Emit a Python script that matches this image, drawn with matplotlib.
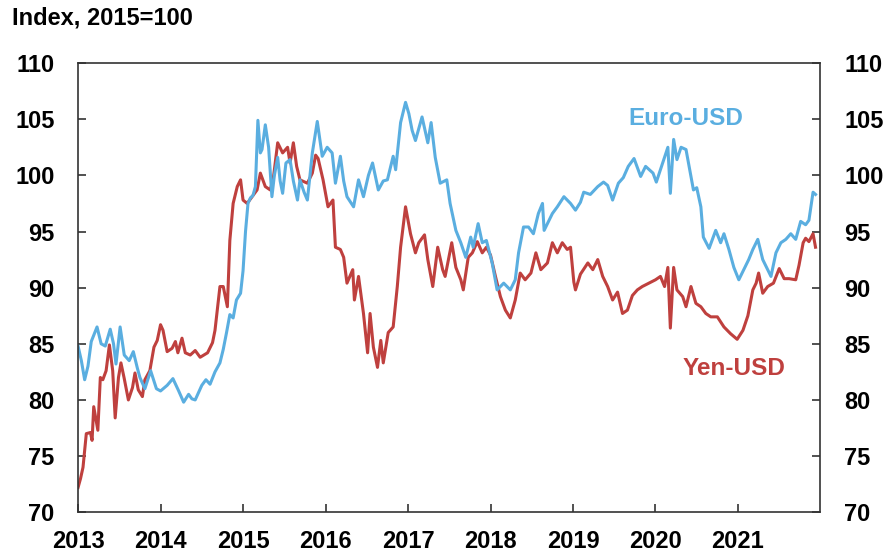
import matplotlib.pyplot as plt

# Euro-USD and Yen-USD indices (2015=100)
euro_years = [2013.00, 2013.04, 2013.08, 2013.12, 2013.16, 2013.23, 2013.28, 2013.33, 2013.39, 2013.43,
              2013.46, 2013.51, 2013.56, 2013.62, 2013.67, 2013.72, 2013.75, 2013.81, 2013.88, 2013.95,
              2014.00, 2014.08, 2014.15, 2014.22, 2014.28, 2014.34, 2014.38, 2014.42, 2014.50, 2014.55,
              2014.60, 2014.66, 2014.72, 2014.76, 2014.80, 2014.84, 2014.88, 2014.92, 2014.97, 2015.00,
              2015.03, 2015.06, 2015.09, 2015.12, 2015.15, 2015.18, 2015.21, 2015.23, 2015.27, 2015.31,
              2015.35, 2015.38, 2015.42, 2015.45, 2015.48, 2015.52, 2015.57, 2015.61, 2015.66, 2015.69,
              2015.74, 2015.78, 2015.84, 2015.90, 2015.96, 2016.02, 2016.08, 2016.12, 2016.18, 2016.22,
              2016.26, 2016.34, 2016.40, 2016.46, 2016.52, 2016.57, 2016.64, 2016.70, 2016.75, 2016.82,
              2016.85, 2016.91, 2016.97, 2017.01, 2017.05, 2017.09, 2017.17, 2017.24, 2017.28, 2017.33,
              2017.39, 2017.47, 2017.51, 2017.58, 2017.64, 2017.70, 2017.76, 2017.79, 2017.85, 2017.90,
              2017.95, 2018.02, 2018.08, 2018.16, 2018.24, 2018.30, 2018.34, 2018.40, 2018.46, 2018.52,
              2018.58, 2018.63, 2018.65, 2018.75, 2018.81, 2018.89, 2018.97, 2019.03, 2019.09, 2019.13,
              2019.21, 2019.30, 2019.37, 2019.42, 2019.48, 2019.55, 2019.61, 2019.67, 2019.74, 2019.82,
              2019.88, 2019.97, 2020.01, 2020.06, 2020.10, 2020.15, 2020.18, 2020.22, 2020.26, 2020.31,
              2020.37, 2020.40, 2020.46, 2020.50, 2020.55, 2020.58, 2020.65, 2020.73, 2020.79, 2020.83,
              2020.89, 2020.95, 2021.01, 2021.07, 2021.13, 2021.18, 2021.24, 2021.30, 2021.36, 2021.40,
              2021.46, 2021.52, 2021.58, 2021.64, 2021.70, 2021.76, 2021.82, 2021.86, 2021.91, 2021.94]
euro_usd = [84.8, 83.5, 81.8, 83.0, 85.2, 86.5, 85.0, 84.8, 86.3, 85.0,
            83.2, 86.5, 84.0, 83.5, 84.3, 82.8, 82.0, 81.0, 82.6, 81.0,
            80.8, 81.3, 81.9, 80.8, 79.8, 80.5, 80.1, 80.0, 81.3, 81.8,
            81.4, 82.5, 83.3, 84.5, 86.0, 87.6, 87.3, 88.9, 89.5, 91.5,
            95.0, 97.5, 98.0, 98.2, 99.0, 104.9, 102.0, 102.3, 104.5, 102.5,
            98.1, 100.0, 101.6, 99.5, 98.4, 101.1, 101.4, 99.5, 97.8, 99.6,
            98.5, 97.8, 102.0, 104.8, 101.7, 102.5, 102.0, 99.3, 101.7, 99.5,
            98.1, 97.2, 99.6, 98.1, 100.0, 101.1, 98.7, 99.5, 99.6, 101.7,
            100.5, 104.7, 106.5, 105.5, 104.0, 103.1, 105.2, 102.9, 104.7, 101.6,
            99.3, 99.6, 97.5, 95.1, 94.0, 92.7, 94.5, 93.6, 95.7, 94.0,
            94.2, 92.2, 89.8, 90.4, 89.8, 90.7, 93.1, 95.4, 95.4, 94.8,
            96.6, 97.5, 95.1, 96.6, 97.2, 98.1, 97.5, 96.9, 97.6, 98.5,
            98.3, 99.0, 99.4, 99.1, 97.8, 99.3, 99.8, 100.8, 101.5, 99.9,
            100.8, 100.2, 99.4, 100.5, 101.4, 102.5, 98.4, 103.2, 101.4, 102.5,
            102.3, 101.1, 98.7, 98.9, 97.2, 94.5, 93.5, 95.1, 94.0, 94.8,
            93.4, 91.8, 90.7, 91.6, 92.5, 93.4, 94.3, 92.5, 91.6, 91.0,
            93.1, 94.0, 94.3, 94.8, 94.3, 95.9, 95.6, 96.0, 98.5, 98.3]

yen_years = [2013.00, 2013.03, 2013.06, 2013.10, 2013.15, 2013.17, 2013.19, 2013.24, 2013.27, 2013.30,
             2013.34, 2013.38, 2013.42, 2013.45, 2013.49, 2013.52, 2013.56, 2013.61, 2013.66, 2013.69,
             2013.73, 2013.78, 2013.81, 2013.87, 2013.92, 2013.96, 2014.00, 2014.03, 2014.08, 2014.14,
             2014.18, 2014.21, 2014.26, 2014.30, 2014.36, 2014.42, 2014.48, 2014.57, 2014.63, 2014.66,
             2014.72, 2014.76, 2014.81, 2014.84, 2014.88, 2014.93, 2014.97, 2015.00, 2015.05, 2015.11,
             2015.17, 2015.21, 2015.27, 2015.33, 2015.37, 2015.42, 2015.48, 2015.54, 2015.57, 2015.61,
             2015.65, 2015.69, 2015.78, 2015.84, 2015.88, 2015.91, 2015.97, 2016.03, 2016.09, 2016.12,
             2016.18, 2016.22, 2016.26, 2016.33, 2016.35, 2016.40, 2016.46, 2016.51, 2016.54, 2016.58,
             2016.63, 2016.67, 2016.70, 2016.76, 2016.82, 2016.87, 2016.91, 2016.97, 2017.03, 2017.09,
             2017.13, 2017.20, 2017.24, 2017.30, 2017.36, 2017.42, 2017.45, 2017.53, 2017.58, 2017.64,
             2017.67, 2017.73, 2017.78, 2017.84, 2017.90, 2017.95, 2018.00, 2018.06, 2018.12, 2018.18,
             2018.24, 2018.30, 2018.36, 2018.42, 2018.49, 2018.55, 2018.61, 2018.69, 2018.75, 2018.81,
             2018.87, 2018.93, 2018.97, 2019.01, 2019.03, 2019.09, 2019.18, 2019.24, 2019.30, 2019.36,
             2019.42, 2019.48, 2019.54, 2019.60, 2019.66, 2019.72, 2019.78, 2019.84, 2019.92, 2020.00,
             2020.06, 2020.11, 2020.15, 2020.18, 2020.22, 2020.26, 2020.33, 2020.37, 2020.43, 2020.49,
             2020.55, 2020.61, 2020.67, 2020.75, 2020.83, 2020.91, 2020.99, 2021.06, 2021.12, 2021.18,
             2021.22, 2021.25, 2021.30, 2021.36, 2021.43, 2021.50, 2021.56, 2021.62, 2021.70, 2021.74,
             2021.79, 2021.82, 2021.86, 2021.91, 2021.94]
yen_usd = [72.2, 73.0, 74.0, 77.0, 77.1, 76.4, 79.4, 77.3, 82.0, 81.8,
           82.6, 84.9, 82.6, 78.4, 82.0, 83.3, 81.9, 80.0, 81.1, 82.4,
           80.9, 80.3, 81.8, 82.6, 84.7, 85.3, 86.7, 86.2, 84.3, 84.6,
           85.2, 84.2, 85.5, 84.2, 84.0, 84.4, 83.8, 84.2, 85.1, 86.2,
           90.1, 90.1, 88.3, 94.2, 97.5, 99.0, 99.6, 97.8, 97.5, 98.1,
           98.7, 100.2, 99.0, 98.7, 99.9, 102.9, 102.0, 102.5, 101.1, 102.9,
           100.8, 99.6, 99.3, 100.2, 101.8, 101.5, 99.6, 97.2, 97.8, 93.6,
           93.4, 92.7, 90.4, 91.6, 88.9, 91.0, 87.7, 84.2, 87.7, 84.7,
           82.9, 85.3, 83.3, 86.0, 86.5, 90.1, 93.6, 97.2, 94.8, 93.1,
           94.0, 94.7, 92.5, 90.1, 93.6, 91.6, 91.0, 94.0, 91.8, 90.7,
           89.8, 92.7, 93.1, 94.1, 93.1, 93.6, 92.9, 91.0, 89.2, 88.0,
           87.3, 88.9, 91.3, 90.7, 91.3, 93.1, 91.6, 92.2, 94.0, 93.1,
           94.0, 93.4, 93.6, 90.5, 89.8, 91.2, 92.2, 91.6, 92.5, 91.0,
           90.1, 88.9, 89.6, 87.7, 88.0, 89.3, 89.8, 90.1, 90.4, 90.7,
           91.0, 90.1, 91.8, 86.4, 91.8, 89.8, 89.2, 88.3, 90.1, 88.6,
           88.3, 87.7, 87.4, 87.4, 86.5, 85.9, 85.4, 86.2, 87.5, 89.8,
           90.4, 91.3, 89.5, 90.1, 90.4, 91.7, 90.8, 90.8, 90.7, 92.0,
           94.0, 94.4, 94.1, 94.8, 93.6]

year_ticks = [2013, 2014, 2015, 2016, 2017, 2018, 2019, 2020, 2021]
value_ticks = [70, 75, 80, 85, 90, 95, 100, 105, 110]

blue = "#5aaee0"
red = "#bf403e"

plt.rcParams['font.family'] = ['Liberation Sans', 'DejaVu Sans']
plt.rcParams['font.weight'] = 'bold'

fig = plt.figure(figsize=(8.87, 5.58), dpi=100)
ax = fig.add_axes([0.088, 0.082, 0.837, 0.805])

ax.plot(yen_years, yen_usd, color=red, lw=2.2)
ax.plot(euro_years, euro_usd, color=blue, lw=2.2)

ax.set_xlim(2013, 2022)
ax.set_ylim(70, 110)
ax.set_xticks(year_ticks)
ax.set_xticklabels([str(y) for y in year_ticks])
ax.set_yticks(value_ticks)

for s in ax.spines.values():
    s.set_color("#333333")
    s.set_linewidth(1.2)

ax.tick_params(axis='y', direction='in', length=6, width=1.2, color="#333333",
               left=True, right=True, labelleft=True, labelright=True,
               labelsize=17, pad=17)
ax.tick_params(axis='x', direction='in', length=6, width=1.2, color="#333333",
               labelsize=17, pad=13)

ax.text(0.818, 0.877, "Euro-USD", transform=ax.transAxes, color=blue,
        fontsize=17.5, ha='center', va='center')
ax.text(0.884, 0.321, "Yen-USD", transform=ax.transAxes, color=red,
        fontsize=17.5, ha='center', va='center')

fig.text(0.013, 0.967, "Index, 2015=100", fontsize=17, ha='left', va='center')

plt.savefig("out.png", dpi=100)
